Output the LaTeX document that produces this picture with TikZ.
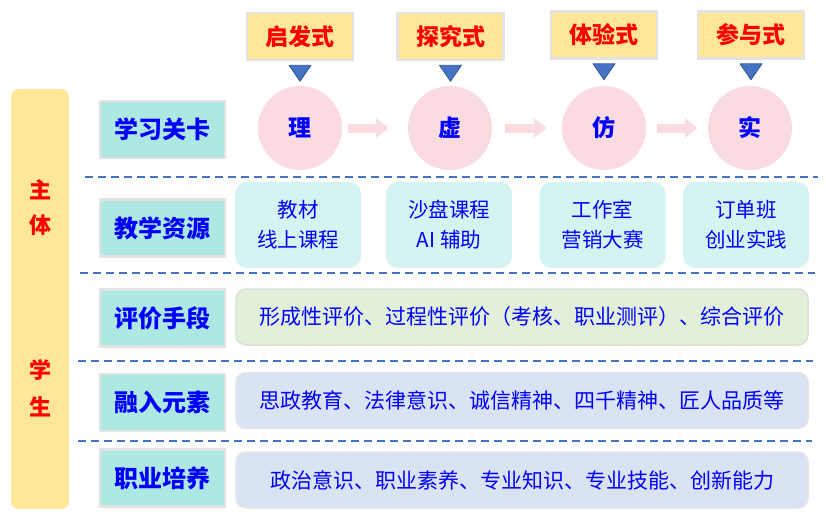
\documentclass[tikz,border=0pt]{standalone}
\usepackage{fontspec}
\setmainfont{Noto Sans CJK SC}
\usetikzlibrary{arrows.meta}

\definecolor{bandyellow}{HTML}{FFE699}
\definecolor{labelteal}{HTML}{ADE8E2}
\definecolor{stagepink}{HTML}{F9DBE0}
\definecolor{restint}{HTML}{D5F3F1}
\definecolor{evalgreen}{HTML}{E2F0D9}
\definecolor{lavender}{HTML}{DAE3F3}
\definecolor{lineblue}{HTML}{4472C4}

\begin{document}
\begin{tikzpicture}[x=1pt,y=-1pt,
    mode/.style={fill=bandyellow,draw=black!11,line width=2.5pt,minimum width=106pt,minimum height=47pt,
      text=red,font=\fontsize{23}{23}\selectfont\bfseries},
    rowlabel/.style={fill=labelteal,draw=black!11,line width=2.5pt,minimum width=125pt,minimum height=57pt,
      text=blue,font=\fontsize{24}{24}\selectfont\bfseries},
    stage/.style={circle,fill=stagepink,minimum size=84pt,text=blue,font=\fontsize{23}{23}\selectfont\bfseries},
    res/.style={rounded corners=12pt,fill=restint,minimum width=126pt,minimum height=86pt,align=center,
      text=blue,font=\fontsize{20.5}{30}\selectfont},
    wide/.style={rounded corners=10pt,draw=black!10,line width=1.5pt,minimum width=572pt,minimum height=56pt,
      text=blue,font=\fontsize{21}{24}\selectfont},
    sep/.style={draw=lineblue,line width=2pt,dash pattern=on 8pt off 5pt},
    pointer/.style={fill=lineblue,draw=lineblue!75!black,line width=0.8pt,line join=round},
    flow/.style={draw=stagepink,line width=9pt,-{Triangle[length=13pt,width=19pt]}},
  ]
  \useasboundingbox (0,0) rectangle (826,517);

  % subject bar on the left
  \node[fill=bandyellow,rounded corners=8pt,minimum width=58pt,minimum height=420pt] (bar) at (40,299) {};
  \node[align=center,text=red,font=\fontsize{22}{35}\selectfont\bfseries] (zhuti) at (40,207.5) {主\\体};
  \node[align=center,text=red,font=\fontsize{22}{37}\selectfont\bfseries] (xuesheng) at (40,388.5) {学\\生};

  % teaching modes
  \node[mode] (qifa) at (300,36.5) {启发式};
  \node[mode] (tanjiu) at (450.5,36.5) {探究式};
  \node[mode] (tiyan) at (604,35) {体验式};
  \node[mode] (canyu) at (751,35) {参与式};

  % stages
  \node[stage] (li) at (300,128) {理};
  \node[stage] (xu) at (450,128) {虚};
  \node[stage] (fang) at (604,128) {仿};
  \node[stage] (shi) at (750,128) {实};

  \foreach \m in {qifa,tanjiu,tiyan,canyu}
    \draw[pointer] ([yshift=-4pt]\m.south) ++(-11,0) -- ++(22,0) -- ++(-11,16) -- cycle;

  \foreach \a/\b/\s/\e in {li/xu/6/19,xu/fang/13/15,fang/shi/11/10}
    \draw[flow,shorten <=\s pt,shorten >=\e pt] (\a) -- (\b);

  % row labels
  \node[rowlabel] (guanka) at (162.5,129.5) {学习关卡};
  \node[rowlabel] (ziyuan) at (162.5,228) {教学资源};
  \node[rowlabel] (pingjia) at (162.5,318) {评价手段};
  \node[rowlabel] (yuansu) at (162.5,402.5) {融入元素};
  \node[rowlabel] (peiyang) at (162.5,478) {职业培养};

  % resources
  \node[res] (jiaocai) at (298,225) {教材\\线上课程};
  \node[res] (shapan) at (449,225) {沙盘课程\\AI 辅助};
  \node[res] (gongzuo) at (602.5,225) {工作室\\营销大赛};
  \node[res] (dingdan) at (746,225) {订单班\\创业实践};

  % wide rows
  \node[wide,fill=evalgreen,draw=evalgreen!85!black!60] (eval) at (522,317) {形成性评价、过程性评价（考核、职业测评）、综合评价};
  \node[wide,fill=lavender] (elem) at (522,400.5) {思政教育、法律意识、诚信精神、四千精神、匠人品质等};
  \node[wide,fill=lavender] (career) at (522,480) {政治意识、职业素养、专业知识、专业技能、创新能力};

  % dashed separators
  \draw[sep] (85,177) -- (818,177);
  \draw[sep] (80,273) -- (815,273);
  \draw[sep] (78,361) -- (813,361);
  \draw[sep] (78,441) -- (812,441);
\end{tikzpicture}
\end{document}
